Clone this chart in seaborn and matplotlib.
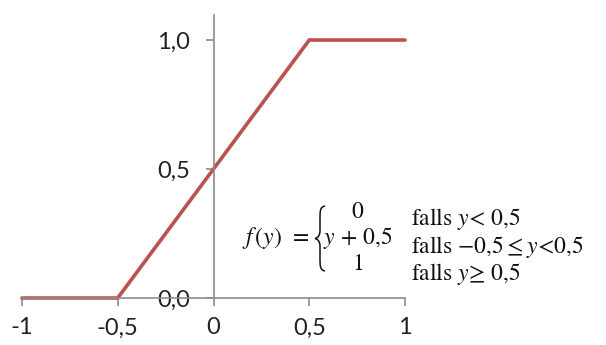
import matplotlib
matplotlib.use("Agg")
import matplotlib.pyplot as plt
import seaborn as sns
import pandas as pd
from matplotlib.path import Path
from matplotlib.patches import PathPatch
from matplotlib.transforms import Affine2D

# Piecewise-linear function f(y): breakpoints and values
y_points = [-1.0, -0.5, 0.5, 1.0]
f_values = [0.0, 0.0, 1.0, 1.0]
x_ticks = [-1, -0.5, 0, 0.5, 1]
x_tick_labels = ["-1", "-0,5", "0", "0,5", "1"]
y_ticks = [0.0, 0.5, 1.0]
y_tick_labels = ["0,0", "0,5", "1,0"]

sns.set_style("white")
plt.rcParams["font.family"] = ["Lato", "DejaVu Sans"]
plt.rcParams["mathtext.fontset"] = "stix"

W, H = 606, 345
fig = plt.figure(figsize=(W / 100, H / 100), dpi=100)
ax = fig.add_axes([22 / W, 47 / H, 383 / W, 283 / H])

df = pd.DataFrame({"y": y_points, "f": f_values})
sns.lineplot(data=df, x="y", y="f", ax=ax, color="#c0504d", linewidth=2.6,
             solid_joinstyle="miter", sort=False)

ax.set_xlim(-1, 1)
ax.set_ylim(0, 1.097)
ax.set_xlabel("")
ax.set_ylabel("")

axis_color = "#8c8c8c"
for side in ("top", "right"):
    ax.spines[side].set_visible(False)
ax.spines["left"].set_position(("data", 0))
ax.spines["bottom"].set_position(("data", 0))
for side in ("left", "bottom"):
    ax.spines[side].set_color(axis_color)
    ax.spines[side].set_linewidth(1.2)

ax.set_xticks(x_ticks)
ax.set_xticklabels(x_tick_labels)
ax.set_yticks(y_ticks)
ax.set_yticklabels(y_tick_labels)
ax.tick_params(axis="x", direction="out", length=6, width=1.2, color=axis_color,
               labelsize=17, pad=8, labelcolor="#222222", bottom=True)
ax.tick_params(axis="y", direction="out", length=6, width=1.2, color=axis_color,
               labelsize=17, pad=11, labelcolor="#222222", left=True)
for line in ax.lines:
    line.set_clip_on(False)

# Formula annotation (positions in pixels from the top-left corner)
tc = "#111111"


def fx(px):
    return px / W


def fy(py):
    return 1 - py / H


fig.text(fx(242), fy(238), r"$f\,(y)\;\,=$", fontsize=17, va="center", ha="left", color=tc)
fig.text(fx(358), fy(211), r"$0$", fontsize=17, va="center", ha="center", color=tc)
fig.text(fx(323), fy(238), r"$y\,+\,0{,}5$", fontsize=17, va="center", ha="left", color=tc)
fig.text(fx(358), fy(264), r"$1$", fontsize=17, va="center", ha="center", color=tc)

# Thin curly brace grouping the three cases
verts = [
    (325, 206),
    (320, 207), (320, 211), (320, 219),
    (320, 231),
    (320, 235), (318, 238), (315, 238.5),
    (318, 239), (320, 242), (320, 246),
    (320, 258),
    (320, 266), (320, 270), (325, 271),
]
codes = [Path.MOVETO,
         Path.CURVE4, Path.CURVE4, Path.CURVE4,
         Path.LINETO,
         Path.CURVE4, Path.CURVE4, Path.CURVE4,
         Path.CURVE4, Path.CURVE4, Path.CURVE4,
         Path.LINETO,
         Path.CURVE4, Path.CURVE4, Path.CURVE4]
to_display = Affine2D().scale(1, -1).translate(0, H)
brace = PathPatch(Path(verts, codes), transform=to_display, fill=False,
                  edgecolor=tc, linewidth=1.1)
fig.patches.append(brace)

fig.text(fx(411), fy(219), r"$\mathrm{falls}\ y\!<\,0{,}5$", fontsize=17,
         va="center", ha="left", color=tc)
fig.text(fx(411), fy(247), r"$\mathrm{falls}\ {-0{,}5} \leq y\!<\!0{,}5$",
         fontsize=17, va="center", ha="left", color=tc)
fig.text(fx(411), fy(274), r"$\mathrm{falls}\ y\!\geq\,0{,}5$", fontsize=17,
         va="center", ha="left", color=tc)

fig.savefig("out.png", dpi=100)
